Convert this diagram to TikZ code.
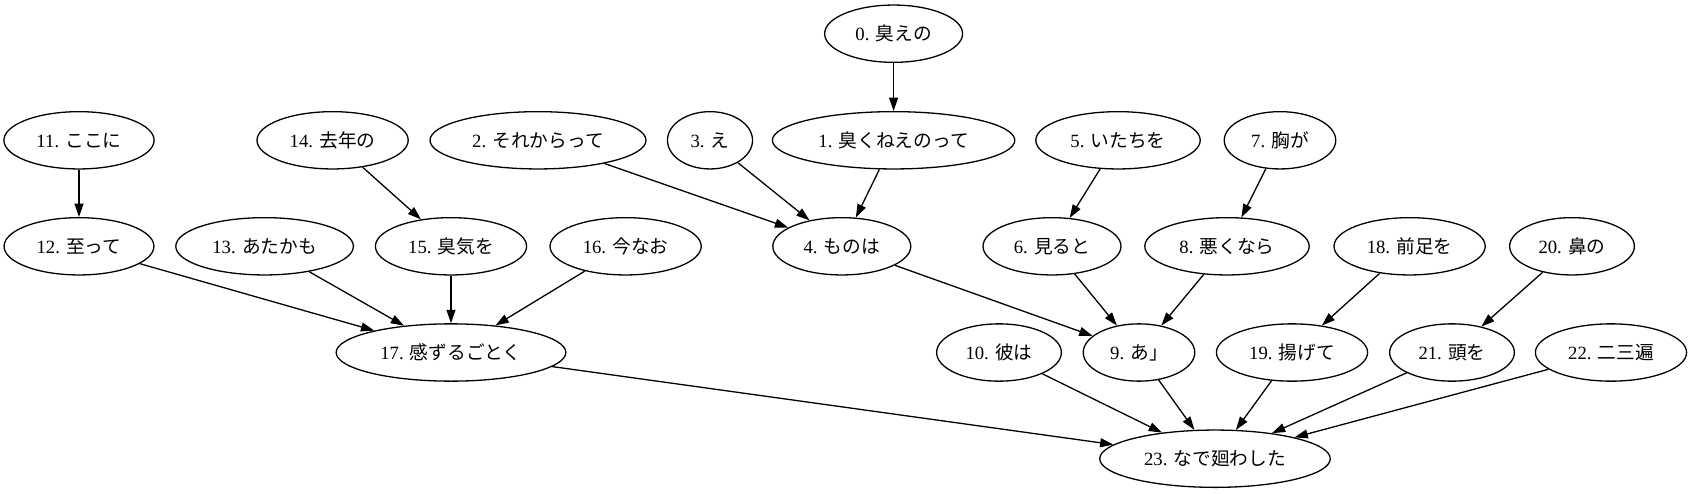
\documentclass[tikz,border=0pt]{standalone}
\usepackage{fontspec}
\setmainfont{Liberation Serif}
\newfontfamily\cjk{Noto Sans CJK JP}
\usetikzlibrary{shapes.geometric,arrows.meta}

\begin{document}
\begin{tikzpicture}[x=1pt, y=-1pt,
    word/.style={draw, ellipse, line width=1.3pt, minimum height=57.3pt, inner xsep=10.6pt, inner ysep=0pt, font=\fontsize{18.7}{22}\selectfont},
    dep/.style={line width=1.3pt, -{Triangle[length=13.3pt, width=8.9pt]}}]
    \useasboundingbox (0,0) rectangle (1692,493) ;

    \node [word] (n0) at (893.6,33.7) {0. {\cjk 臭えの}} ;

    \node [word] (n11) at (79,140.3) {11. {\cjk ここに}} ;
    \node [word] (n14) at (332.6,140.3) {14. {\cjk 去年の}} ;
    \node [word] (n2) at (538,140.3) {2. {\cjk それからって}} ;
    \node [word] (n3) at (710,140.3) {3. {\cjk え}} ;
    \node [word] (n1) at (893.6,140.3) {1. {\cjk 臭くねえのって}} ;
    \node [word] (n5) at (1118,140.3) {5. {\cjk いたちを}} ;
    \node [word] (n7) at (1280,140.3) {7. {\cjk 胸が}} ;

    \node [word] (n12) at (79,246.3) {12. {\cjk 至って}} ;
    \node [word] (n13) at (264.6,246.3) {13. {\cjk あたかも}} ;
    \node [word] (n15) at (451,246.3) {15. {\cjk 臭気を}} ;
    \node [word] (n16) at (625.6,246.3) {16. {\cjk 今なお}} ;
    \node [word] (n4) at (841.8,246.3) {4. {\cjk ものは}} ;
    \node [word] (n6) at (1052,246.3) {6. {\cjk 見ると}} ;
    \node [word] (n8) at (1227,246.3) {8. {\cjk 悪くなら}} ;
    \node [word] (n18) at (1409.6,246.3) {18. {\cjk 前足を}} ;
    \node [word] (n20) at (1572,246.3) {20. {\cjk 鼻の}} ;

    \node [word] (n17) at (451,352.5) {17. {\cjk 感ずるごとく}} ;
    \node [word] (n10) at (999,352.5) {10. {\cjk 彼は}} ;
    \node [word] (n9) at (1139,352.5) {9. {\cjk あ」}} ;
    \node [word] (n19) at (1292,352.5) {19. {\cjk 揚げて}} ;
    \node [word] (n21) at (1452,352.5) {21. {\cjk 頭を}} ;
    \node [word] (n22) at (1611,352.5) {22. {\cjk 二三遍}} ;

    \node [word] (n23) at (1215,458.7) {23. {\cjk なで廻わした}} ;

    \draw [dep] (n0) -- (n1) ;
    \draw [dep] (n1) -- (n4) ;
    \draw [dep] (n2) -- (n4) ;
    \draw [dep] (n3) -- (n4) ;
    \draw [dep] (n11) -- (n12) ;
    \draw [dep] (n14) -- (n15) ;
    \draw [dep] (n12) -- (n17) ;
    \draw [dep] (n13) -- (n17) ;
    \draw [dep] (n15) -- (n17) ;
    \draw [dep] (n16) -- (n17) ;
    \draw [dep] (n5) -- (n6) ;
    \draw [dep] (n7) -- (n8) ;
    \draw [dep] (n4) -- (n9) ;
    \draw [dep] (n6) -- (n9) ;
    \draw [dep] (n8) -- (n9) ;
    \draw [dep] (n18) -- (n19) ;
    \draw [dep] (n20) -- (n21) ;
    \draw [dep] (n17) -- (n23) ;
    \draw [dep] (n10) -- (n23) ;
    \draw [dep] (n9) -- (n23) ;
    \draw [dep] (n19) -- (n23) ;
    \draw [dep] (n21) -- (n23) ;
    \draw [dep] (n22) -- (n23) ;
\end{tikzpicture}
\end{document}
